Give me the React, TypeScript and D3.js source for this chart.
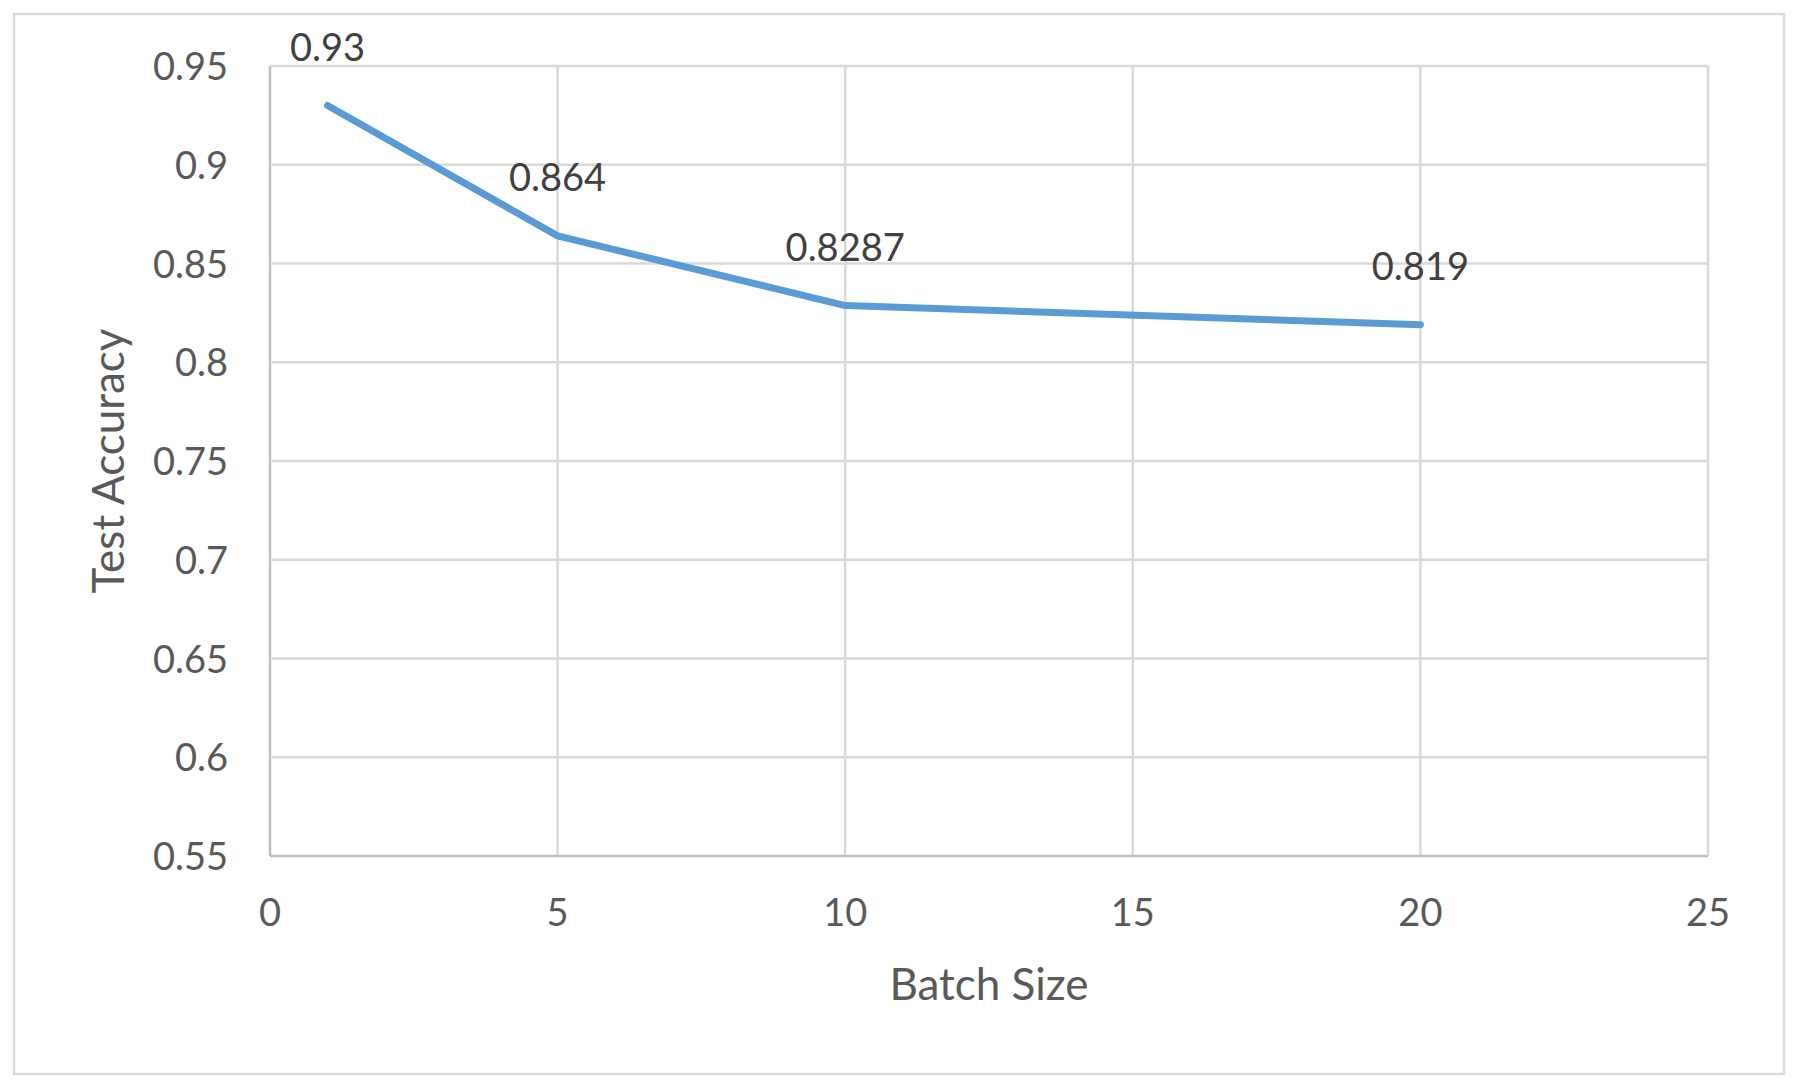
import * as d3 from 'd3'
import { useRef, useEffect } from 'react'

const W = 1796, H = 1092
const M = { top: 66, right: 88, bottom: 236, left: 270 }

// data
const batchSizes = [1, 5, 10, 20]
const accuracies = [0.93, 0.864, 0.8287, 0.819]
const pointLabels = ['0.93', '0.864', '0.8287', '0.819']
const xTicks = [0, 5, 10, 15, 20, 25]
const yTicks = [0.55, 0.6, 0.65, 0.7, 0.75, 0.8, 0.85, 0.9, 0.95]

const FONT = 'Lato, "Open Sans", sans-serif'

export default function App() {
  const svgRef = useRef<SVGSVGElement>(null)

  useEffect(() => {
    const svg = d3.select(svgRef.current)
    svg.selectAll('*').remove()

    const x = d3.scaleLinear().domain([0, 25]).range([M.left, W - M.right])
    const y = d3.scaleLinear().domain([0.55, 0.95]).range([H - M.bottom, M.top])

    svg.append('rect').attr('width', W).attr('height', H).attr('fill', 'white')

    // outer chart border
    svg.append('rect').attr('x', 14).attr('y', 14).attr('width', 1770).attr('height', 1060)
      .attr('fill', 'none').attr('stroke', '#d9d9d9').attr('stroke-width', 2.5)

    // grid
    xTicks.forEach((t) => svg.append('line').attr('x1', x(t)).attr('x2', x(t)).attr('y1', M.top).attr('y2', H - M.bottom)
      .attr('stroke', t === 0 ? '#bfbfbf' : '#d9d9d9').attr('stroke-width', 2.5))
    yTicks.forEach((t) => svg.append('line').attr('x1', M.left).attr('x2', W - M.right).attr('y1', y(t)).attr('y2', y(t))
      .attr('stroke', t === 0.55 ? '#bfbfbf' : '#d9d9d9').attr('stroke-width', 2.5))

    // tick labels
    svg.append('g').selectAll('text').data(yTicks).join('text')
      .attr('x', M.left - 42).attr('y', (d) => y(d) + 14).attr('text-anchor', 'end')
      .attr('font-family', FONT).attr('font-size', 38).attr('fill', '#595959')
      .text((d) => String(d))
    svg.append('g').selectAll('text').data(xTicks).join('text')
      .attr('x', (d) => x(d)).attr('y', 926).attr('text-anchor', 'middle')
      .attr('font-family', FONT).attr('font-size', 38).attr('fill', '#595959')
      .text((d) => String(d))

    // axis titles
    svg.append('text').attr('x', (M.left + W - M.right) / 2).attr('y', 1000).attr('text-anchor', 'middle')
      .attr('font-family', FONT).attr('font-size', 44).attr('fill', '#595959').text('Batch Size')
    svg.append('text').attr('transform', `translate(124,${(M.top + H - M.bottom) / 2}) rotate(-90)`)
      .attr('text-anchor', 'middle')
      .attr('font-family', FONT).attr('font-size', 44).attr('fill', '#595959').text('Test Accuracy')

    // series
    const pts = batchSizes.map((b, i) => [b, accuracies[i]] as [number, number])
    const line = d3.line<[number, number]>().x(([a]) => x(a)).y(([, b]) => y(b))
    svg.append('path').datum(pts).attr('d', line).attr('fill', 'none')
      .attr('stroke', '#5b9bd5').attr('stroke-width', 7).attr('stroke-linecap', 'round').attr('stroke-linejoin', 'round')

    // data labels
    svg.append('g').selectAll('text').data(pts).join('text')
      .attr('x', (d) => x(d[0])).attr('y', (d) => y(d[1]) - 45).attr('text-anchor', 'middle')
      .attr('font-family', FONT).attr('font-size', 38).attr('fill', '#404040')
      .text((d, i) => pointLabels[i])
  }, [])

  return (
    <svg ref={svgRef} width={W} height={H} viewBox={`0 0 ${W} ${H}`}
      style={{ position: 'absolute', left: 0, top: 0, display: 'block' }} />
  )
}
